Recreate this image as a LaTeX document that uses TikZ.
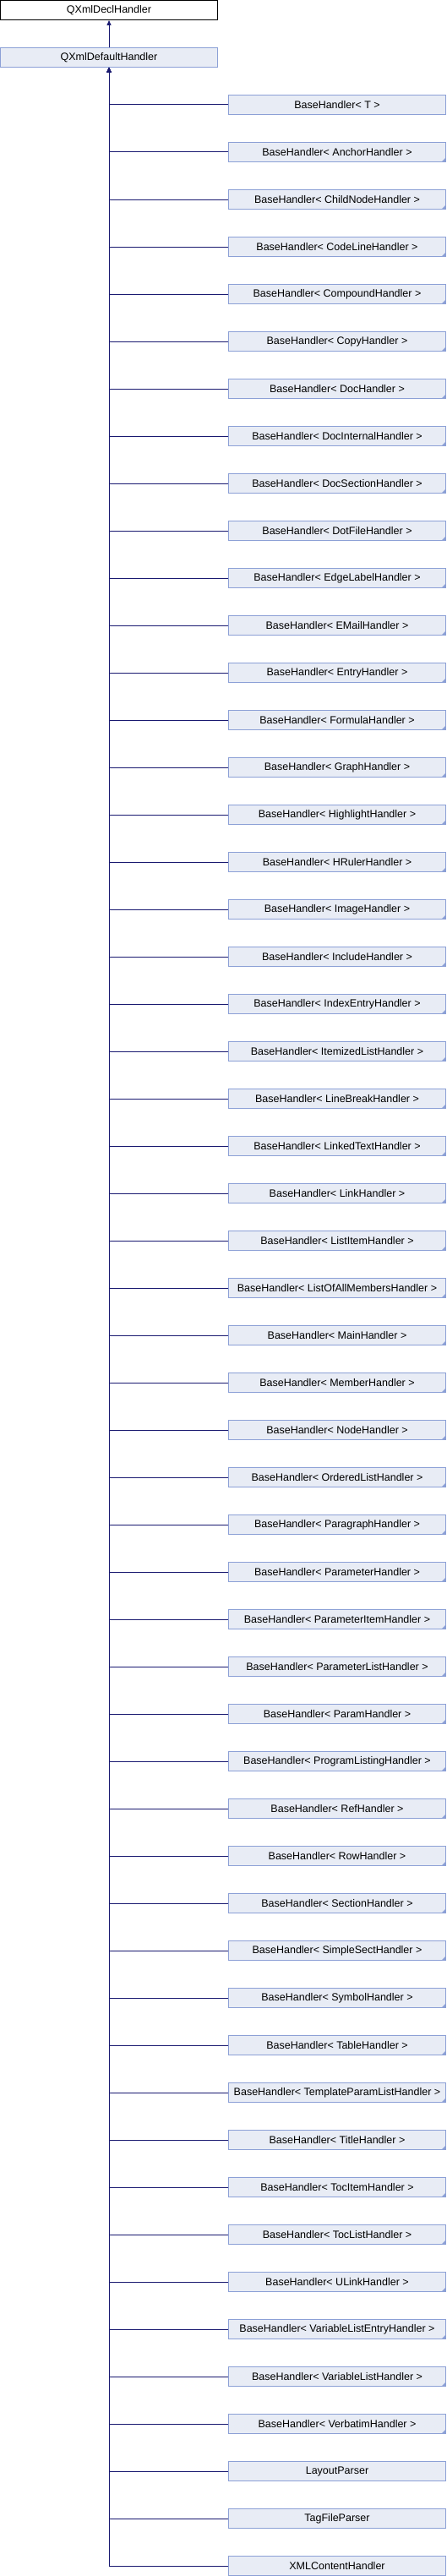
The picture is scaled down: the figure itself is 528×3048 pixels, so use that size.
\documentclass[tikz,border=0pt]{standalone}
\usepackage{fontspec}
\setmainfont{Liberation Sans}
\usepackage{tikz}
\usetikzlibrary{arrows.meta}

\definecolor{boxfill}{HTML}{E8ECF5}
\definecolor{boxline}{HTML}{8CA0D6}
\definecolor{edgecol}{HTML}{191970}

\tikzset{
  declbox/.style={draw=black, fill=white, line width=1pt, minimum width=257pt, minimum height=23pt, inner sep=1pt, font=\fontsize{12.5}{15}\selectfont},
  classbox/.style={declbox, draw=boxline, fill=boxfill},
  tmplbox/.style={classbox, path picture={
      \fill[boxline] (path picture bounding box.south east) -- ++(-5pt,0) -- ++(5pt,5pt) -- cycle;}},
  inherit/.style={draw=edgecol, line width=1pt, -{Triangle[length=6pt, width=5pt]}}
}

\begin{document}
\begin{tikzpicture}[x=1pt, y=1pt]
			\useasboundingbox (0,0) rectangle (528,-3048);
			
			% Base classes
			\node[declbox] (decl) at (129,-12) {QXmlDeclHandler};
			\node[classbox] (default) at (129,-68) {QXmlDefaultHandler};
			\draw[inherit] (default) -- (decl);
			
			% Derived classes
			\node[classbox] (c1) at (399,-124) {BaseHandler< T >};
			\node[tmplbox] (c2) at (399,-180) {BaseHandler< AnchorHandler >};
			\node[tmplbox] (c3) at (399,-236) {BaseHandler< ChildNodeHandler >};
			\node[tmplbox] (c4) at (399,-292) {BaseHandler< CodeLineHandler >};
			\node[tmplbox] (c5) at (399,-348) {BaseHandler< CompoundHandler >};
			\node[tmplbox] (c6) at (399,-404) {BaseHandler< CopyHandler >};
			\node[tmplbox] (c7) at (399,-460) {BaseHandler< DocHandler >};
			\node[tmplbox] (c8) at (399,-516) {BaseHandler< DocInternalHandler >};
			\node[tmplbox] (c9) at (399,-572) {BaseHandler< DocSectionHandler >};
			\node[tmplbox] (c10) at (399,-628) {BaseHandler< DotFileHandler >};
			\node[tmplbox] (c11) at (399,-684) {BaseHandler< EdgeLabelHandler >};
			\node[tmplbox] (c12) at (399,-740) {BaseHandler< EMailHandler >};
			\node[tmplbox] (c13) at (399,-796) {BaseHandler< EntryHandler >};
			\node[tmplbox] (c14) at (399,-852) {BaseHandler< FormulaHandler >};
			\node[tmplbox] (c15) at (399,-908) {BaseHandler< GraphHandler >};
			\node[tmplbox] (c16) at (399,-964) {BaseHandler< HighlightHandler >};
			\node[tmplbox] (c17) at (399,-1020) {BaseHandler< HRulerHandler >};
			\node[tmplbox] (c18) at (399,-1076) {BaseHandler< ImageHandler >};
			\node[tmplbox] (c19) at (399,-1132) {BaseHandler< IncludeHandler >};
			\node[tmplbox] (c20) at (399,-1188) {BaseHandler< IndexEntryHandler >};
			\node[tmplbox] (c21) at (399,-1244) {BaseHandler< ItemizedListHandler >};
			\node[tmplbox] (c22) at (399,-1300) {BaseHandler< LineBreakHandler >};
			\node[tmplbox] (c23) at (399,-1356) {BaseHandler< LinkedTextHandler >};
			\node[tmplbox] (c24) at (399,-1412) {BaseHandler< LinkHandler >};
			\node[tmplbox] (c25) at (399,-1468) {BaseHandler< ListItemHandler >};
			\node[tmplbox] (c26) at (399,-1524) {BaseHandler< ListOfAllMembersHandler >};
			\node[tmplbox] (c27) at (399,-1580) {BaseHandler< MainHandler >};
			\node[tmplbox] (c28) at (399,-1636) {BaseHandler< MemberHandler >};
			\node[tmplbox] (c29) at (399,-1692) {BaseHandler< NodeHandler >};
			\node[tmplbox] (c30) at (399,-1748) {BaseHandler< OrderedListHandler >};
			\node[tmplbox] (c31) at (399,-1804) {BaseHandler< ParagraphHandler >};
			\node[tmplbox] (c32) at (399,-1860) {BaseHandler< ParameterHandler >};
			\node[tmplbox] (c33) at (399,-1916) {BaseHandler< ParameterItemHandler >};
			\node[tmplbox] (c34) at (399,-1972) {BaseHandler< ParameterListHandler >};
			\node[tmplbox] (c35) at (399,-2028) {BaseHandler< ParamHandler >};
			\node[tmplbox] (c36) at (399,-2084) {BaseHandler< ProgramListingHandler >};
			\node[tmplbox] (c37) at (399,-2140) {BaseHandler< RefHandler >};
			\node[tmplbox] (c38) at (399,-2196) {BaseHandler< RowHandler >};
			\node[tmplbox] (c39) at (399,-2252) {BaseHandler< SectionHandler >};
			\node[tmplbox] (c40) at (399,-2308) {BaseHandler< SimpleSectHandler >};
			\node[tmplbox] (c41) at (399,-2364) {BaseHandler< SymbolHandler >};
			\node[tmplbox] (c42) at (399,-2420) {BaseHandler< TableHandler >};
			\node[tmplbox] (c43) at (399,-2476) {BaseHandler< TemplateParamListHandler >};
			\node[tmplbox] (c44) at (399,-2532) {BaseHandler< TitleHandler >};
			\node[tmplbox] (c45) at (399,-2588) {BaseHandler< TocItemHandler >};
			\node[tmplbox] (c46) at (399,-2644) {BaseHandler< TocListHandler >};
			\node[tmplbox] (c47) at (399,-2700) {BaseHandler< ULinkHandler >};
			\node[tmplbox] (c48) at (399,-2756) {BaseHandler< VariableListEntryHandler >};
			\node[tmplbox] (c49) at (399,-2812) {BaseHandler< VariableListHandler >};
			\node[tmplbox] (c50) at (399,-2868) {BaseHandler< VerbatimHandler >};
			\node[classbox] (c51) at (399,-2924) {LayoutParser};
			\node[classbox] (c52) at (399,-2980) {TagFileParser};
			\node[classbox] (c53) at (399,-3036) {XMLContentHandler};
			
			% Inheritance lines
			\foreach \i in {1,...,53}
				\draw[inherit] (c\i.west) -| (default.south);
		\end{tikzpicture}
\end{document}
